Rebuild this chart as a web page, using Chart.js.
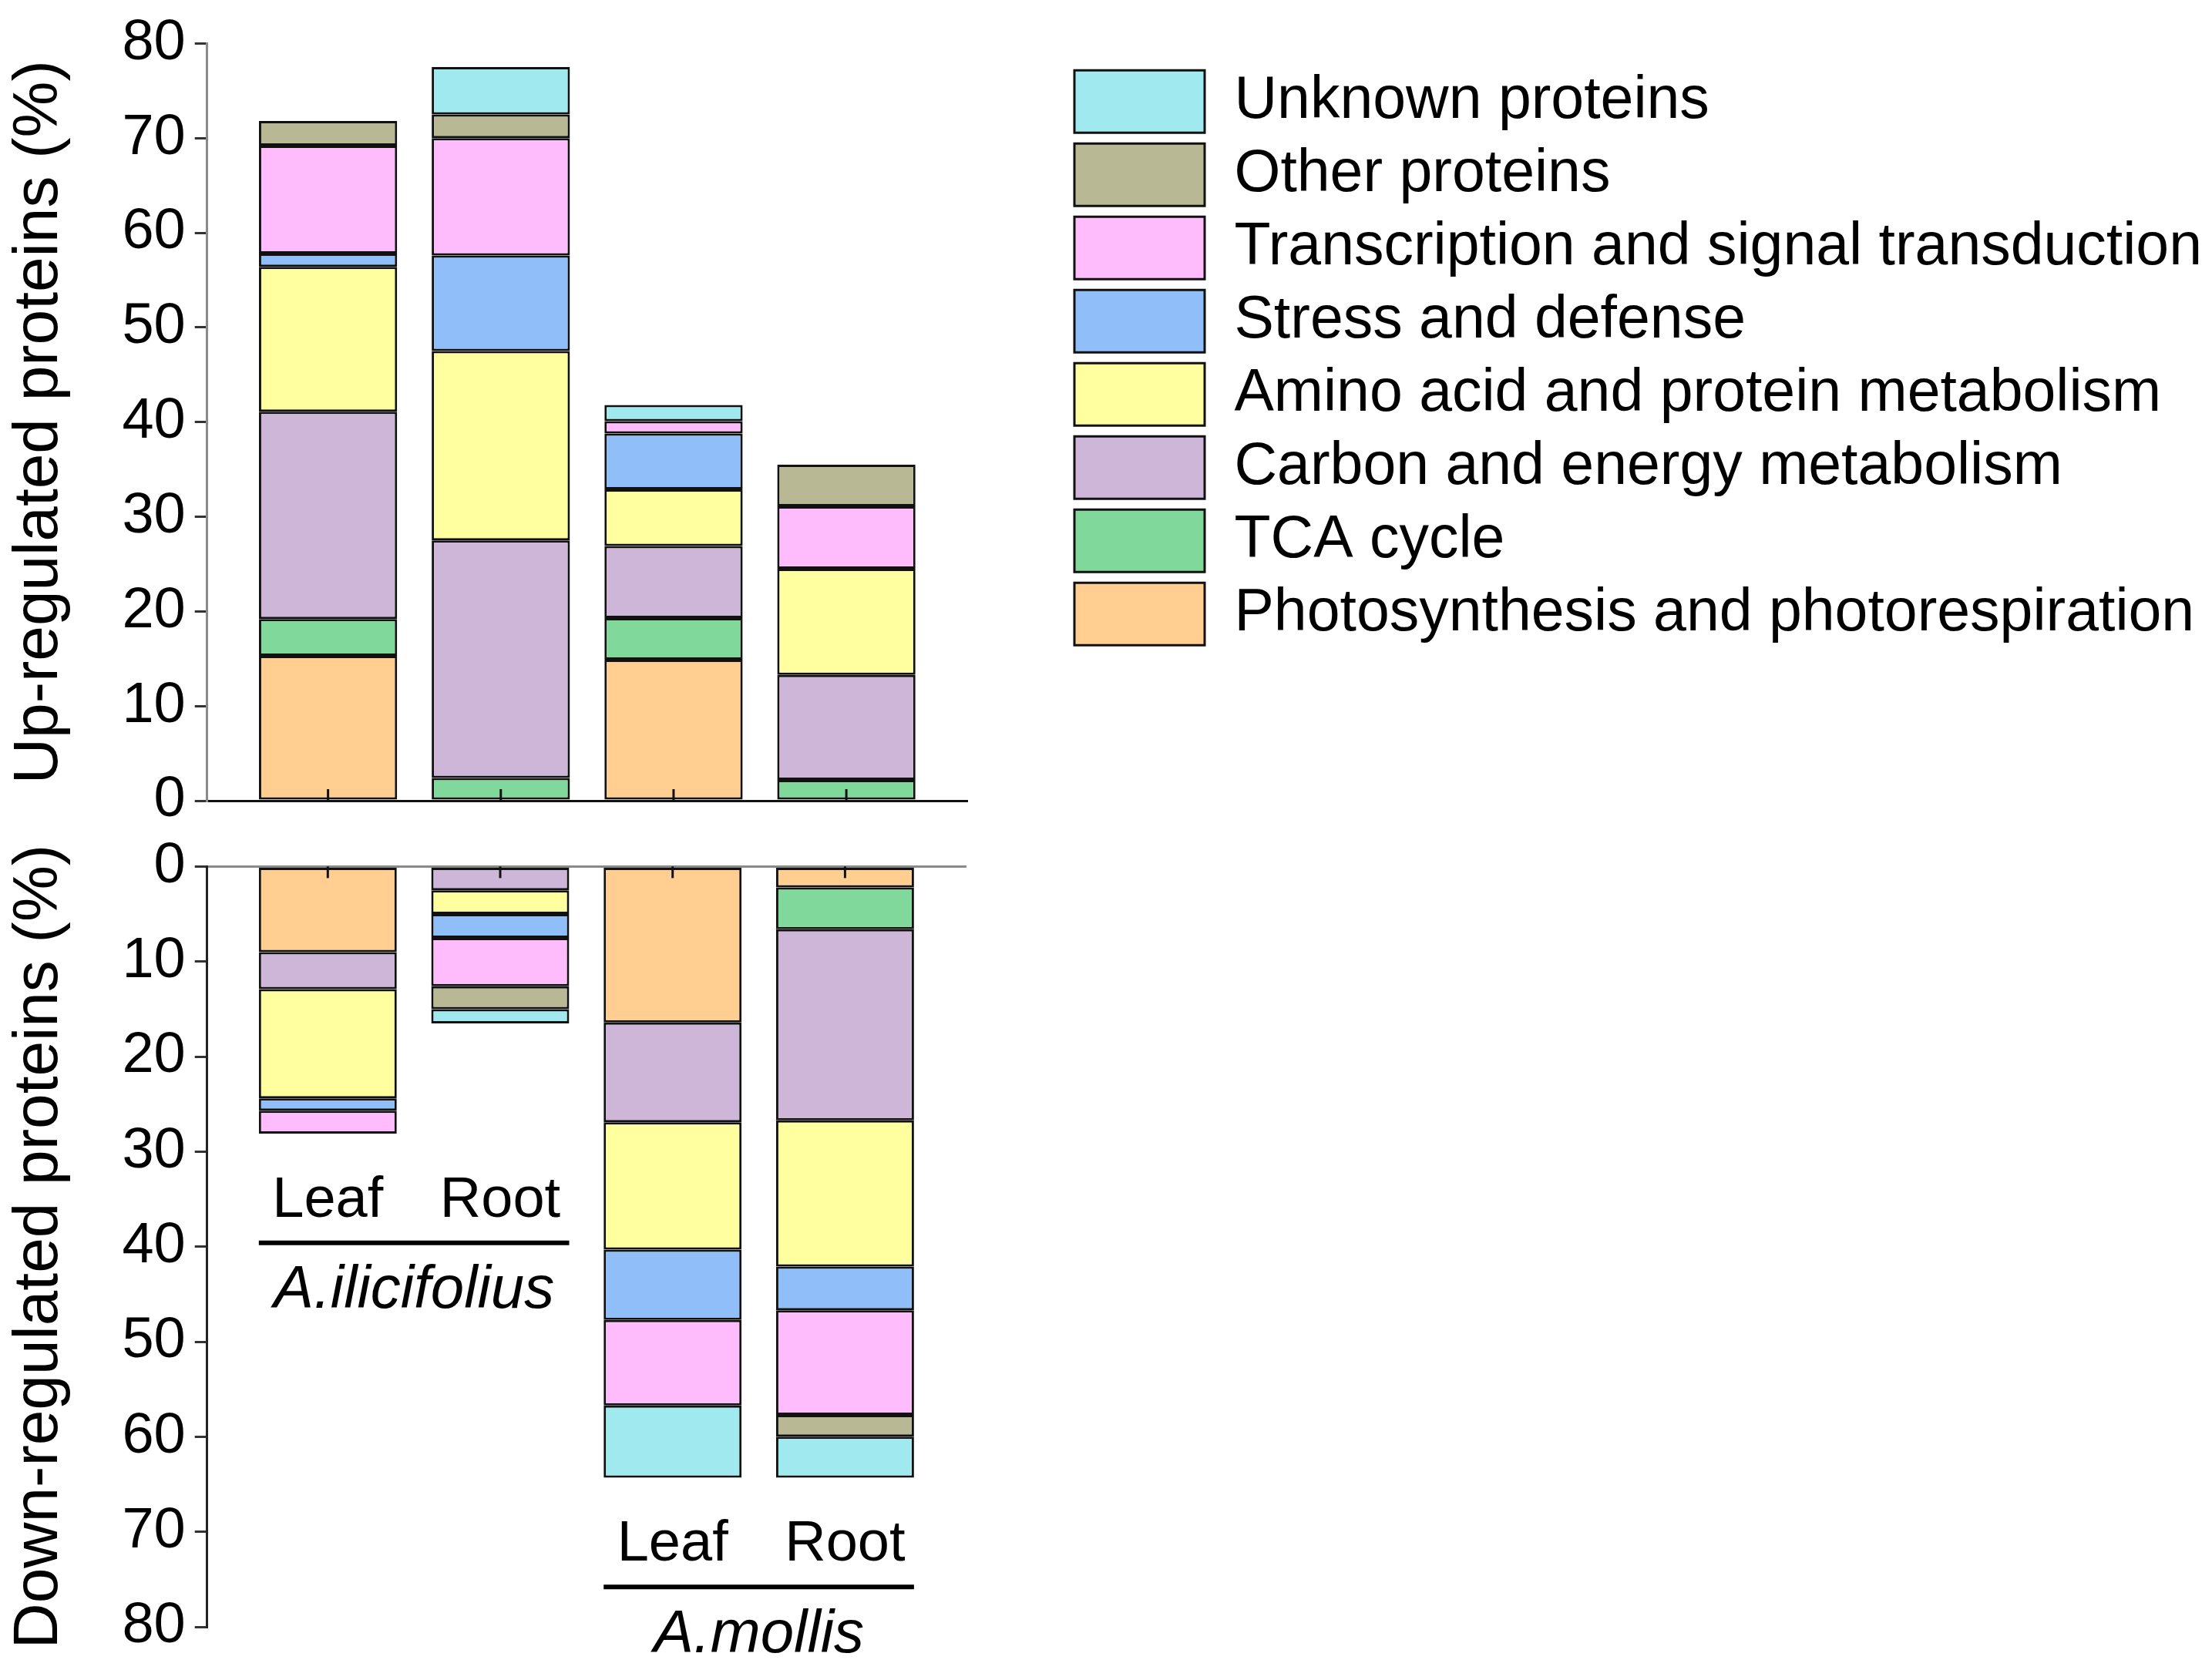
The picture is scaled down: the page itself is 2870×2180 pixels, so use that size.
<!DOCTYPE html>
<html>
<head>
<meta charset="utf-8">
<script src="https://cdn.jsdelivr.net/npm/chart.js@4.4.1/dist/chart.umd.min.js"></script>
<style>
    html, body { margin: 0; padding: 0; background: #fff; }
    body { width: 2870px; height: 2180px; position: relative; overflow: hidden; }
    #upWrap { position: absolute; left: 0; top: 0; width: 2870px; height: 1096px; }
    #downWrap { position: absolute; left: 0; top: 1068px; width: 1400px; height: 1112px; }
</style>
</head>
<body>
<div id="upWrap"><canvas id="upChart"></canvas></div>
<div id="downWrap"><canvas id="downChart"></canvas></div>
<script>
// samples along the x axis, two per species
const samples = ['Leaf', 'Root', 'Leaf', 'Root'];
const species = ['A.ilicifolius', 'A.mollis'];

// functional categories, stacked bottom to top
const categories = [
    'Photosynthesis and photorespiration',
    'TCA cycle',
    'Carbon and energy metabolism',
    'Amino acid and protein metabolism',
    'Stress and defense',
    'Transcription and signal transduction',
    'Other proteins',
    'Unknown proteins'
];
const colors = ['#FFCE90', '#80D89A', '#CEB6D8', '#FFFF9F', '#90BEF8', '#FFBCFD', '#B8B894', '#A0E9EE'];

// up-regulated proteins (%), per sample
const upPhoto   = [15.3, 0,    14.9, 0];
const upTCA     = [3.9,  2.4,  4.4,  2.2];
const upCarbon  = [21.9, 25.1, 7.6,  11.1];
const upAmino   = [15.3, 20.0, 6.0,  11.2];
const upStress  = [1.4,  10.1, 5.9,  0];
const upTrans   = [11.4, 12.4, 1.3,  6.6];
const upOther   = [2.6,  2.5,  0,    4.4];
const upUnknown = [0,    5.0,  1.7,  0];

// down-regulated proteins (%), per sample
const downPhoto   = [9.0,  0,   16.4, 2.2];
const downTCA     = [0,    0,   0,    4.4];
const downCarbon  = [3.9,  2.5, 10.5, 20.1];
const downAmino   = [11.5, 2.5, 13.4, 15.4];
const downStress  = [1.3,  2.5, 7.4,  4.6];
const downTrans   = [2.4,  5.1, 9.0,  11.0];
const downOther   = [0,    2.4, 0,    2.3];
const downUnknown = [0,    1.5, 7.6,  4.3];

const yTicks = [0, 10, 20, 30, 40, 50, 60, 70, 80];

const upValues = [upPhoto, upTCA, upCarbon, upAmino, upStress, upTrans, upOther, upUnknown];
const downValues = [downPhoto, downTCA, downCarbon, downAmino, downStress, downTrans, downOther, downUnknown];

const family = "'Liberation Sans', Arial, Helvetica, sans-serif";
Chart.defaults.font.family = family;
Chart.defaults.color = '#000';

function buildDatasets(series) {
    return categories.map((name, k) => ({
        label: name,
        data: series[k].map((v, i) => ({ x: i + 1, y: v > 0 ? v : null })),
        backgroundColor: colors[k],
        borderColor: '#111',
        borderWidth: 3,
        borderSkipped: false,
        barPercentage: 0.8,
        categoryPercentage: 1
    }));
}

function sampleTicks(scale) {
    scale.ticks = samples.map((s, i) => ({ value: i + 1 }));
}

function valueTicks(scale) {
    scale.ticks = yTicks.map(v => ({ value: v }));
}

// short tick marks pointing into the plot at every sample
const innerTicks = {
    id: 'innerTicks',
    afterDatasetsDraw(chart, args, opts) {
        const { ctx, scales: { x, y } } = chart;
        const y0 = y.getPixelForValue(0);
        ctx.save();
        ctx.strokeStyle = '#111';
        ctx.lineWidth = 3;
        x.ticks.forEach(t => {
            const px = x.getPixelForValue(t.value);
            ctx.beginPath();
            ctx.moveTo(px, y0);
            ctx.lineTo(px, y0 + opts.dir * 15);
            ctx.stroke();
        });
        ctx.restore();
    }
};

// Leaf / Root labels, the bar under them and the species name
const groupLabels = {
    id: 'groupLabels',
    afterDraw(chart, args, opts) {
        const { ctx, scales: { x, y } } = chart;
        const half = (x.getPixelForValue(2) - x.getPixelForValue(1)) * 0.8 / 2;
        ctx.save();
        ctx.fillStyle = '#000';
        ctx.strokeStyle = '#000';
        ctx.textAlign = 'center';
        ctx.textBaseline = 'middle';
        species.forEach((sp, g) => {
            const idx = [2 * g, 2 * g + 1];
            const depth = Math.max(...idx.map(i => downValues.reduce((s, arr) => s + arr[i], 0)));
            const x1 = x.getPixelForValue(idx[0] + 1);
            const x2 = x.getPixelForValue(idx[1] + 1);

            ctx.font = `74px ${family}`;
            idx.forEach(i => ctx.fillText(samples[i], x.getPixelForValue(i + 1), y.getPixelForValue(depth + opts.sampleGap)));

            const yl = y.getPixelForValue(depth + opts.lineGap);
            ctx.lineWidth = 6;
            ctx.beginPath();
            ctx.moveTo(x1 - half, yl);
            ctx.lineTo(x2 + half, yl);
            ctx.stroke();

            ctx.font = `italic 78px ${family}`;
            ctx.fillText(sp, (x1 + x2) / 2, y.getPixelForValue(depth + opts.speciesGap));
        });
        ctx.restore();
    }
};

function yAxis(title, reverse, borderColor) {
    return {
        stacked: true,
        reverse: reverse,
        min: 0,
        max: 80,
        afterBuildTicks: valueTicks,
        ticks: { font: { size: 74 }, padding: 12, color: '#000' },
        grid: { drawOnChartArea: false, tickLength: 16, color: '#333', lineWidth: 3 },
        border: { color: borderColor, width: 3 },
        title: { display: true, text: title, color: '#000', font: { size: 82 }, padding: { top: 0, bottom: 46 } }
    };
}

function xAxis(position, borderColor) {
    return {
        type: 'linear',
        position: position,
        stacked: true,
        offset: false,
        min: 0.3,
        max: 4.7,
        afterBuildTicks: sampleTicks,
        ticks: { display: false },
        grid: { display: false, drawTicks: false },
        border: { color: borderColor, width: 3 }
    };
}

new Chart(document.getElementById('upChart'), {
    type: 'bar',
    data: { datasets: buildDatasets(upValues) },
    options: {
        responsive: true,
        maintainAspectRatio: false,
        animation: false,
        layout: { padding: { left: 2, top: 56, right: 3, bottom: 57 } },
        scales: {
            x: xAxis('bottom', '#111'),
            y: yAxis('Up-regulated proteins (%)', false, '#8a8a8a'),
            gap: {
                type: 'linear',
                position: 'right',
                grid: { display: false, drawTicks: false },
                ticks: { display: false },
                border: { display: false },
                afterFit(scale) { scale.width = 125; }
            }
        },
        plugins: {
            legend: {
                position: 'right',
                align: 'start',
                reverse: true,
                maxWidth: 1600,
                title: { display: true, text: '', padding: 10, font: { size: 1 } },
                labels: { boxWidth: 169, boxHeight: 81, padding: 14, color: '#000', font: { size: 77 } }
            },
            tooltip: { enabled: false },
            innerTicks: { dir: -1 }
        }
    },
    plugins: [innerTicks]
});

new Chart(document.getElementById('downChart'), {
    type: 'bar',
    data: { datasets: buildDatasets(downValues) },
    options: {
        responsive: true,
        maintainAspectRatio: false,
        animation: false,
        layout: { padding: { left: 2, top: 56, right: 147, bottom: 69 } },
        scales: {
            x: xAxis('top', '#8a8a8a'),
            y: yAxis('Down-regulated proteins (%)', true, '#222')
        },
        plugins: {
            legend: { display: false },
            tooltip: { enabled: false },
            innerTicks: { dir: 1 },
            groupLabels: { sampleGap: 7.1, lineGap: 11.5, speciesGap: 16.6 }
        }
    },
    plugins: [innerTicks, groupLabels]
});
</script>
</body>
</html>
